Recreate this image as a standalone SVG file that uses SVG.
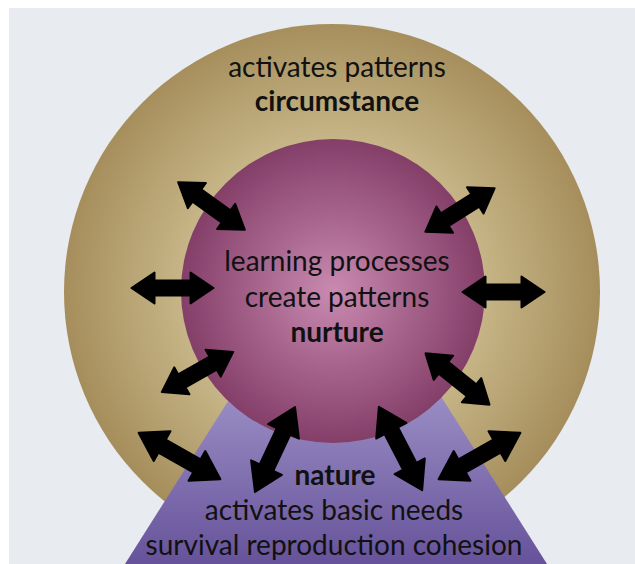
<svg xmlns="http://www.w3.org/2000/svg" xmlns:xlink="http://www.w3.org/1999/xlink" width="635" height="564" viewBox="0 0 635 564">
  <style>
    .t { font-family: Lato, "Open Sans", "Liberation Sans", sans-serif; font-size: 28px; fill: #111; text-anchor: middle; }
    .b { font-weight: bold; }
    .arrow { fill: #000; stroke: #000; stroke-width: 2; stroke-linejoin: round; }
  </style>
  <defs>
    <radialGradient id="gOuter" cx="332" cy="290" r="268" gradientUnits="userSpaceOnUse">
      <stop offset="0" stop-color="#e2d6b2"/>
      <stop offset="0.55" stop-color="#c7b688"/>
      <stop offset="1" stop-color="#a68e5c"/>
    </radialGradient>
    <radialGradient id="gInner" cx="333" cy="291" r="152" gradientUnits="userSpaceOnUse">
      <stop offset="0" stop-color="#c98ab0"/>
      <stop offset="1" stop-color="#843f69"/>
    </radialGradient>
    <linearGradient id="gTrap" x1="0" y1="290" x2="0" y2="564" gradientUnits="userSpaceOnUse">
      <stop offset="0" stop-color="#bab2de"/>
      <stop offset="1" stop-color="#66529a"/>
    </linearGradient>
    <path id="aS" d="M -41 0 L -18 -15.5 L -18 -7.5 L 18 -7.5 L 18 -15.5 L 41 0 L 18 15.5 L 18 7.5 L -18 7.5 L -18 15.5 Z"/>
    <path id="aL" d="M -47 0 L -20 -17 L -20 -7.5 L 20 -7.5 L 20 -17 L 47 0 L 20 17 L 20 7.5 L -20 7.5 L -20 17 Z"/>
  </defs>
  <rect id="background" x="9" y="8" width="626" height="556" fill="#e8ebf0"/>
  <g id="circumstance">
    <circle cx="332" cy="292" r="268" fill="url(#gOuter)"/>
    <text class="t" x="337" y="77">activates patterns</text>
    <text class="t b" x="337" y="111">circumstance</text>
  </g>
  <g id="nature">
    <polygon points="292,300 380,300 547,564 125,564" fill="url(#gTrap)"/>
    <text class="t b" x="335" y="485">nature</text>
    <text class="t" x="334" y="520">activates basic needs</text>
    <text class="t" x="334" y="555">survival reproduction cohesion</text>
  </g>
  <g id="nurture">
    <circle cx="333" cy="291" r="152" fill="url(#gInner)"/>
    <text class="t" x="337" y="271">learning processes</text>
    <text class="t" x="337" y="307">create patterns</text>
    <text class="t b" x="337" y="342">nurture</text>
  </g>
  <g id="connectors" class="arrow">
    <use xlink:href="#aS" transform="translate(211.5,206) rotate(35.6)"/>
    <use xlink:href="#aS" transform="translate(460,210) rotate(-32.2)"/>
    <use xlink:href="#aS" transform="translate(172.5,288)"/>
    <use xlink:href="#aS" transform="translate(503.5,292)"/>
    <use xlink:href="#aS" transform="translate(197.5,372) rotate(-29.4)"/>
    <use xlink:href="#aS" transform="translate(457.5,379) rotate(38.7)"/>
    <use xlink:href="#aL" transform="translate(179.5,456) rotate(29.5)"/>
    <use xlink:href="#aL" transform="translate(275,449.5) rotate(-64.8)"/>
    <use xlink:href="#aL" transform="translate(400.5,448.5) rotate(62.6)"/>
    <use xlink:href="#aL" transform="translate(479.5,456) rotate(-29.5)"/>
  </g>
</svg>
